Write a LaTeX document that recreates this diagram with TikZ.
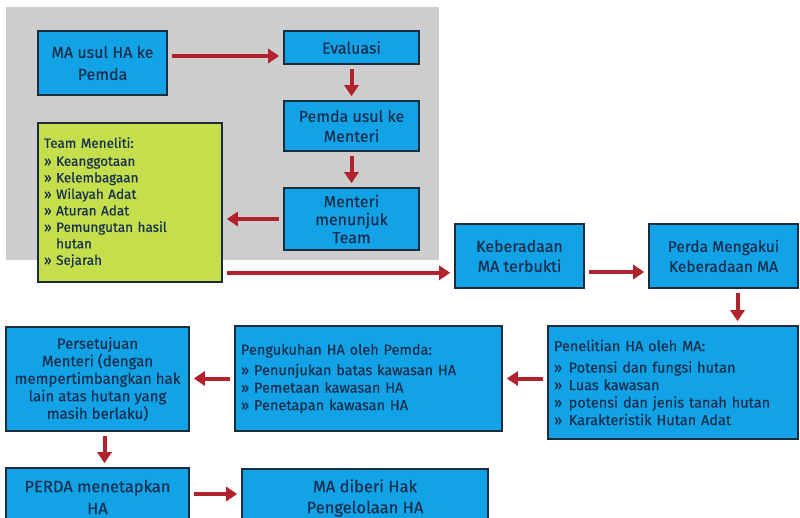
\documentclass[tikz,border=0pt]{standalone}
\usepackage{fontspec}
\setmainfont{Fira Sans}[FakeBold=0.5]
\usetikzlibrary{arrows.meta}
\definecolor{boxblue}{RGB}{18,163,230}
\definecolor{edge}{RGB}{28,44,60}
\definecolor{ink}{RGB}{24,48,80}
\definecolor{leaf}{RGB}{196,222,76}
\definecolor{panelgray}{RGB}{205,205,205}
\definecolor{flow}{RGB}{178,34,44}
\newcommand{\itm}{»\hspace{0.45em}}
\begin{document}
\begin{tikzpicture}[x=1pt,y=-1pt,
  box/.style={draw=edge, line width=1.6pt, fill=boxblue, text=ink,
    align=center, inner sep=0pt, font=\fontsize{16}{19}\selectfont},
  listbox/.style={box, align=left, inner xsep=6pt,
    font=\fontsize{14.5}{17.5}\selectfont},
  arr/.style={draw=flow, line width=4pt,
    -{Triangle[length=11pt,width=14pt]}, shorten <=4pt, shorten >=4pt}]
\useasboundingbox (0,0) rectangle (800,517);
\clip (0,0) rectangle (800,517);
\fill[white] (0,0) rectangle (800,517);
% grey panel behind the first stage
\fill[panelgray] (6,7) rectangle (439,260);

% first stage
\node[box, minimum width=129, minimum height=64, font=\fontsize{16}{22}\selectfont]
  (usul) at (102.5,63) {MA usul HA ke\\Pemda};
\node[box, minimum width=135, minimum height=33] (eval) at (351.5,47.5) {Evaluasi};
\node[box, minimum width=135, minimum height=50, font=\fontsize{16}{20}\selectfont]
  (pemda) at (351.5,126) {Pemda usul ke\\Menteri};
\node[box, minimum width=135, minimum height=62, font=\fontsize{16}{18}\selectfont]
  (menteri) at (351.5,219) {Menteri\\menunjuk\\Team};
\node[listbox, fill=leaf, minimum width=184, minimum height=159, text width=172,
  font=\fontsize{13.5}{16.5}\selectfont]
  (team) at (130,202.5) {Team Meneliti:\\[1.5pt]
  » Keanggotaan\\» Kelembagaan\\» Wilayah Adat\\» Aturan Adat\\
  » Pemungutan hasil\\\hphantom{» }hutan\\» Sejarah};

% second stage
\node[box, minimum width=129, minimum height=64, font=\fontsize{16}{20}\selectfont]
  (bukti) at (519.5,256) {Keberadaan\\MA terbukti};
\node[box, minimum width=149, minimum height=64, font=\fontsize{15.5}{20}\selectfont]
  (akui) at (723.5,256) {Perda Mengakui\\Keberadaan MA};
\node[listbox, minimum width=250, minimum height=113, text width=238]
  (teliti) at (673,382.5) {Penelitian HA oleh MA:\\[4pt]
  \itm Potensi dan fungsi hutan\\\itm Luas kawasan\\
  \itm potensi dan jenis tanah hutan\\\itm Karakteristik Hutan Adat};
\node[listbox, minimum width=267, minimum height=105, text width=255]
  (kukuh) at (368.5,378.5) {Pengukuhan HA oleh Pemda:\\[3pt]
  » Penunjukan batas kawasan HA\\» Pemetaan kawasan HA\\» Penetapan kawasan HA};
\node[box, minimum width=183, minimum height=104, font=\fontsize{15}{17.5}\selectfont]
  (setuju) at (97.5,379) {Persetujuan\\Menteri (dengan\\mempertimbangkan hak\\lain atas hutan yang\\masih berlaku)};
\node[box, minimum width=183, minimum height=58, font=\fontsize{16.5}{22}\selectfont]
  (tetap) at (97.5,497) {PERDA menetapkan\\HA};
\node[box, minimum width=246, minimum height=58, font=\fontsize{16.5}{21}\selectfont]
  (kelola) at (365,498) {MA diberi Hak\\Pengelolaan HA};

% connectors
\draw[arr] ([yshift=7pt]usul.east) -- ([yshift=7pt]usul.east -| eval.west);
\draw[arr] (eval) -- (pemda);
\draw[arr] (pemda) -- (menteri);
\draw[arr] (menteri.west) -- (menteri.west -| team.east);
\draw[arr] ([yshift=10pt]team.south east) -- ([yshift=10pt]team.south east -| bukti.west);
\draw[arr] ([yshift=-16pt]bukti.east) -- ([yshift=-16pt]akui.west);
\draw[arr] ([xshift=14pt]akui.south) -- ([xshift=14pt]akui.south |- teliti.north);
\draw[arr] (kukuh.east -| teliti.west) -- (kukuh.east);
\draw[arr] (kukuh.west) -- (kukuh.west -| setuju.east);
\draw[arr] ([xshift=7pt]setuju.south) -- ([xshift=7pt]tetap.north);
\draw[arr] ([yshift=3pt]tetap.east) -- ([yshift=3pt]tetap.east -| kelola.west);
\end{tikzpicture}
\end{document}
